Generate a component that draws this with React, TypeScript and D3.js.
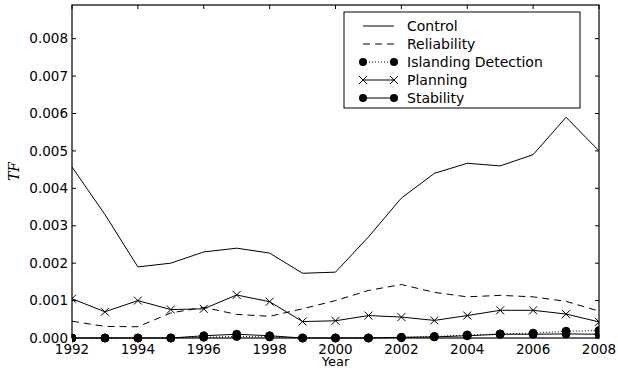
import * as d3 from 'd3'

const years = d3.range(1992, 2009)
const control = [0.00457, 0.0033, 0.0019, 0.002, 0.0023, 0.0024, 0.00227, 0.00173, 0.00176, 0.0027, 0.00374, 0.0044, 0.00467, 0.0046, 0.0049, 0.0059, 0.005]
const reliability = [0.00045, 0.00031, 0.0003, 0.00067, 0.00082, 0.00063, 0.00058, 0.00078, 0.001, 0.00127, 0.00143, 0.00122, 0.0011, 0.00114, 0.0011, 0.00098, 0.00072]
const islanding = [0, 0, 0, 0, 0.00002, 0.00004, 0.00003, 0, 0, 0, 0.00001, 0.00004, 0.00008, 0.00011, 0.00013, 0.00018, 0.0002]
const planning = [0.00105, 0.0007, 0.001, 0.00076, 0.00078, 0.00115, 0.00097, 0.00044, 0.00046, 0.0006, 0.00056, 0.00047, 0.0006, 0.00074, 0.00074, 0.00064, 0.00043]
const stability = [0, 0, 0, 0, 0.00006, 0.0001, 0.00006, 0, 0, 0, 0.00002, 0.00003, 0.00006, 0.0001, 0.0001, 0.00011, 0.0001]
const yTicks = [0, 0.001, 0.002, 0.003, 0.004, 0.005, 0.006, 0.007, 0.008]
const xTicks = d3.range(1992, 2009, 2)

const W = 618
const H = 372
const left = 72, right = 599, top = 5, bottom = 338
const font = 'DejaVu Sans, sans-serif'

const App = () => {
  const x = d3.scaleLinear().domain([1992, 2008]).range([left, right])
  const y = d3.scaleLinear().domain([0, 0.0089]).range([bottom, top])
  const line = d3.line<number>().x((d, i) => x(years[i])).y((d) => y(d))

  const legendItems = [
    { name: 'Control', dash: '', marker: 'none' },
    { name: 'Reliability', dash: '7,5', marker: 'none' },
    { name: 'Islanding Detection', dash: '1,2', marker: 'circle' },
    { name: 'Planning', dash: '', marker: 'x' },
    { name: 'Stability', dash: '', marker: 'circle' },
  ]

  const drawMarker = (type: string, cx: number, cy: number, key: any) => {
    if (type === 'circle') return <circle key={key} cx={cx} cy={cy} r={4} fill='black' />
    if (type === 'x')
      return (
        <path key={key} d={`M${cx - 4},${cy - 4}L${cx + 4},${cy + 4}M${cx - 4},${cy + 4}L${cx + 4},${cy - 4}`} stroke='black' strokeWidth={1} />
      )
    return null
  }

  return (
    <svg width={W} height={H} style={{ position: 'absolute', left: 0, top: 0, background: 'white' }} fontFamily={font}>
      <defs>
        <clipPath id='plot'>
          <rect x={left} y={top} width={right - left} height={bottom - top + 6} />
        </clipPath>
      </defs>
      <g clipPath='url(#plot)' fill='none' stroke='black' strokeWidth={1}>
        <path d={line(control)!} />
        <path d={line(reliability)!} strokeDasharray='7,5' />
        <path d={line(islanding)!} strokeDasharray='1,2' />
        {islanding.map((v, i) => drawMarker('circle', x(years[i]), y(v), 'i' + i))}
        <path d={line(planning)!} />
        {planning.map((v, i) => drawMarker('x', x(years[i]), y(v), 'p' + i))}
        <path d={line(stability)!} />
        {stability.map((v, i) => drawMarker('circle', x(years[i]), y(v), 's' + i))}
      </g>
      {/* frame and inward ticks */}
      <rect x={left} y={top} width={right - left} height={bottom - top} fill='none' stroke='black' strokeWidth={1.2} />
      {xTicks.map((t) => (
        <g key={'xt' + t} stroke='black'>
          <line x1={x(t)} x2={x(t)} y1={bottom} y2={bottom - 4} />
          <line x1={x(t)} x2={x(t)} y1={top} y2={top + 4} />
        </g>
      ))}
      {yTicks.map((t) => (
        <g key={'yt' + t} stroke='black'>
          <line x1={left} x2={left + 4} y1={y(t)} y2={y(t)} />
          <line x1={right} x2={right - 4} y1={y(t)} y2={y(t)} />
        </g>
      ))}
      {yTicks.map((t) => (
        <text key={'yl' + t} x={left - 4} y={y(t)} dy='0.35em' textAnchor='end' fontSize={13.5}>
          {d3.format('.3f')(t)}
        </text>
      ))}
      {xTicks.map((t) => (
        <text key={'xl' + t} x={x(t)} y={bottom + 16} textAnchor='middle' fontSize={13.5}>
          {t}
        </text>
      ))}
      <text x={(left + right) / 2} y={366} textAnchor='middle' fontSize={13}>
        Year
      </text>
      <text transform={`translate(19,${(top + bottom) / 2}) rotate(-90)`} textAnchor='middle' fontSize={14} fontStyle='italic' fontFamily='DejaVu Serif, serif'>
        TF
      </text>
      {/* legend */}
      <rect x={344} y={12} width={236} height={96} fill='white' stroke='black' strokeWidth={1} />
      {legendItems.map((d, i) => {
        const ly = 26 + i * 18
        return (
          <g key={d.name}>
            <line x1={363} x2={394} y1={ly} y2={ly} stroke='black' strokeDasharray={d.dash} />
            {drawMarker(d.marker, 363, ly, 'a')}
            {drawMarker(d.marker, 394, ly, 'b')}
            <text x={407} y={ly} dy='0.35em' fontSize={14}>
              {d.name}
            </text>
          </g>
        )
      })}
    </svg>
  )
}

export default App
